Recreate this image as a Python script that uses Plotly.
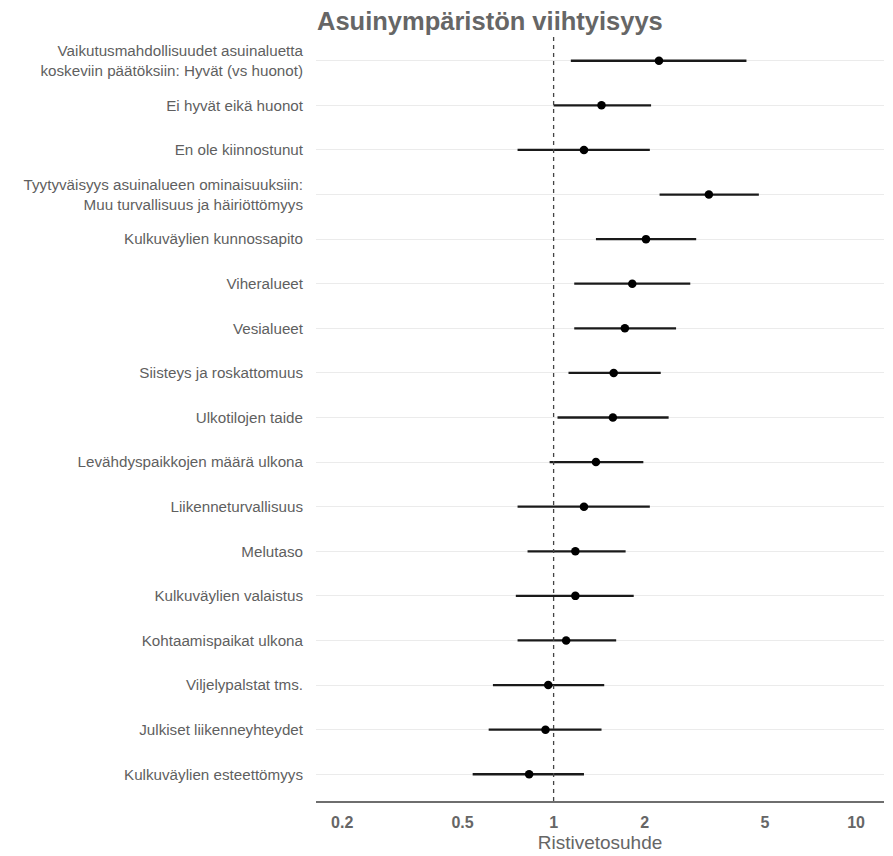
import plotly.graph_objects as go

labels = [
    "Vaikutusmahdollisuudet asuinaluetta<br>koskeviin päätöksiin: Hyvät (vs huonot)",
    "Ei hyvät eikä huonot",
    "En ole kiinnostunut",
    "Tyytyväisyys asuinalueen ominaisuuksiin:<br>Muu turvallisuus ja häiriöttömyys",
    "Kulkuväylien kunnossapito",
    "Viheralueet",
    "Vesialueet",
    "Siisteys ja roskattomuus",
    "Ulkotilojen taide",
    "Levähdyspaikkojen määrä ulkona",
    "Liikenneturvallisuus",
    "Melutaso",
    "Kulkuväylien valaistus",
    "Kohtaamispaikat ulkona",
    "Viljelypalstat tms.",
    "Julkiset liikenneyhteydet",
    "Kulkuväylien esteettömyys",
]
odds_ratio = [2.23, 1.44, 1.26, 3.26, 2.02, 1.82, 1.72, 1.58, 1.57, 1.38, 1.26, 1.18, 1.18, 1.10, 0.96, 0.94, 0.83]
ci_low = [1.14, 1.00, 0.76, 2.24, 1.38, 1.17, 1.17, 1.12, 1.03, 0.97, 0.76, 0.82, 0.75, 0.76, 0.63, 0.61, 0.54]
ci_high = [4.34, 2.10, 2.08, 4.77, 2.96, 2.83, 2.54, 2.26, 2.40, 1.98, 2.08, 1.73, 1.84, 1.61, 1.47, 1.44, 1.26]
tick_vals = [0.2, 0.5, 1, 2, 5, 10]
tick_text = ["0.2", "0.5", "1", "2", "5", "10"]

ypos = list(range(len(labels)))
font = "Liberation Sans, Arial, sans-serif"

# the page body has an 8px default margin, so the figure is sized to fit it
W, H = 885, 848

fig = go.Figure()
fig.add_trace(go.Scatter(
    x=odds_ratio, y=ypos, mode="markers",
    marker=dict(color="black", size=8.5),
    error_x=dict(type="data", symmetric=False,
                 array=[h - o for h, o in zip(ci_high, odds_ratio)],
                 arrayminus=[o - l for o, l in zip(odds_ratio, ci_low)],
                 color="#1a1a1a", thickness=2.3, width=0),
    showlegend=False, hoverinfo="skip",
))
fig.add_vline(x=1, line=dict(color="#444444", width=1.3, dash="4px,4px"))

fig.update_layout(
    width=W, height=H,
    margin=dict(l=308, r=9, t=26, b=55, autoexpand=False),
    paper_bgcolor="white", plot_bgcolor="white",
    font=dict(family=font, color="#5f5f5f"),
    title=dict(text="<b>Asuinympäristön viihtyisyys</b>", x=309 / W, xanchor="left",
               y=1 - 13 / H, yanchor="middle",
               font=dict(size=25.5, color="#666666", family=font)),
    xaxis=dict(type="log", range=[-0.7855, 1.0922],
               tickvals=tick_vals, ticktext=[f"<b>{t}</b>" for t in tick_text],
               tickfont=dict(size=16, color="#666666"),
               showgrid=False, zeroline=False,
               showline=True, linecolor="#6e6e6e", linewidth=1.6,
               ticks="", ticklen=0, ticklabelstandoff=6, automargin=False,
               title=dict(text="Ristivetosuhde", font=dict(size=19, color="#666666"), standoff=6)),
    yaxis=dict(range=[16.6, -0.6], tickvals=ypos, ticktext=labels,
               tickfont=dict(size=15.2, color="#5f5f5f"),
               showgrid=True, gridcolor="#ebebeb", gridwidth=1, automargin=False,
               zeroline=False, showline=False, ticks="", ticklabelstandoff=12),
)

fig.write_html("out.html")
